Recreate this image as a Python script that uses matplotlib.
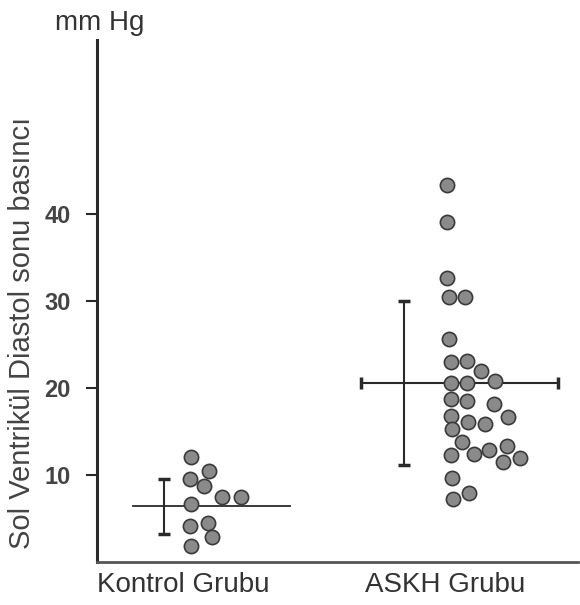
import numpy as np
import matplotlib
matplotlib.use('Agg')
from matplotlib import pyplot as plt

plt.rcParams['font.family'] = ['Liberation Sans', 'DejaVu Sans']

# Kontrol group: values (mm Hg) and horizontal placement of each dot
kontrol_values = [12.1, 10.5, 9.6, 8.7, 7.5, 7.5, 6.7, 4.1, 4.5, 2.9, 1.9]
kontrol_x = [19.5, 23.3, 19.3, 22.2, 26.0, 29.9, 19.5, 19.3, 23.1, 23.9, 19.5]
kontrol_mean = 6.4
kontrol_sd = 3.2

# ASKH group
askh_values = [43.3, 39.1, 32.6, 30.5, 30.5, 25.6, 23.0, 23.1, 21.9, 20.6,
               20.6, 20.8, 18.7, 18.5, 18.2, 16.8, 16.7, 16.1, 15.9, 15.3,
               13.8, 13.3, 12.9, 12.4, 12.3, 11.5, 11.9, 9.7, 7.9, 7.2]
askh_x = [72.8, 72.8, 72.8, 73.2, 76.5, 73.2, 73.6, 76.9, 79.8, 73.6,
          76.9, 82.7, 73.6, 76.9, 82.5, 73.6, 85.4, 77.1, 80.7, 73.8,
          75.9, 85.2, 81.5, 78.4, 73.6, 84.4, 87.9, 73.8, 77.3, 74.0]
askh_mean = 20.6
askh_sd = 9.4

group_labels = ['Kontrol Grubu', 'ASKH Grubu']
y_ticks = [10, 20, 30, 40]

fig = plt.figure(figsize=(5.8, 6.05), dpi=100)
ax = fig.add_axes([0.167, 0.071, 0.83, 0.863])
ax.set_xlim(0, 100)
ax.set_ylim(0, 60)

ink = '#2a2a2a'

# mean lines and SD bars
ax.plot([7.5, 40.1], [kontrol_mean, kontrol_mean], color=ink, lw=1.3)
ax.errorbar([13.9], [kontrol_mean], yerr=[kontrol_sd], color=ink, lw=1.5,
            capsize=4, capthick=2.5)
ax.errorbar([75.3], [askh_mean], xerr=[20.4], color=ink, lw=1.5,
            capsize=4, capthick=2.5, fmt='none')
ax.errorbar([63.8], [askh_mean], yerr=[askh_sd], color=ink, lw=1.5,
            capsize=4, capthick=2.5, fmt='none')

# individual measurements
ax.scatter(kontrol_x, kontrol_values, s=105, facecolor='#8a8a8a',
           edgecolor='#3a3a3a', linewidth=1.2, zorder=3)
ax.scatter(askh_x, askh_values, s=105, facecolor='#8a8a8a',
           edgecolor='#3a3a3a', linewidth=1.2, zorder=3)

for side in ['top', 'right']:
    ax.spines[side].set_visible(False)
ax.spines['left'].set_linewidth(2.2)
ax.spines['left'].set_color(ink)
ax.spines['bottom'].set_linewidth(2.0)
ax.spines['bottom'].set_color('#555555')

ax.set_yticks(y_ticks)
ax.set_yticklabels([str(t) for t in y_ticks], fontsize=17, fontweight='bold',
                   color='#444444')
ax.tick_params(axis='y', length=8, width=1.5, color=ink, pad=11)
ax.set_xticks([17.9, 72.3])
ax.set_xticklabels(group_labels, fontsize=20, color='#333333')
ax.tick_params(axis='x', length=0, pad=7)

fig.text(0.172, 0.962, 'mm Hg', fontsize=20, color='#333333',
         ha='center', va='center')
fig.text(0.038, 0.45, 'Sol Ventrikül Diastol sonu basıncı', fontsize=21,
         color='#444444', rotation=90, ha='center', va='center')

fig.savefig('out.png', dpi=100)
